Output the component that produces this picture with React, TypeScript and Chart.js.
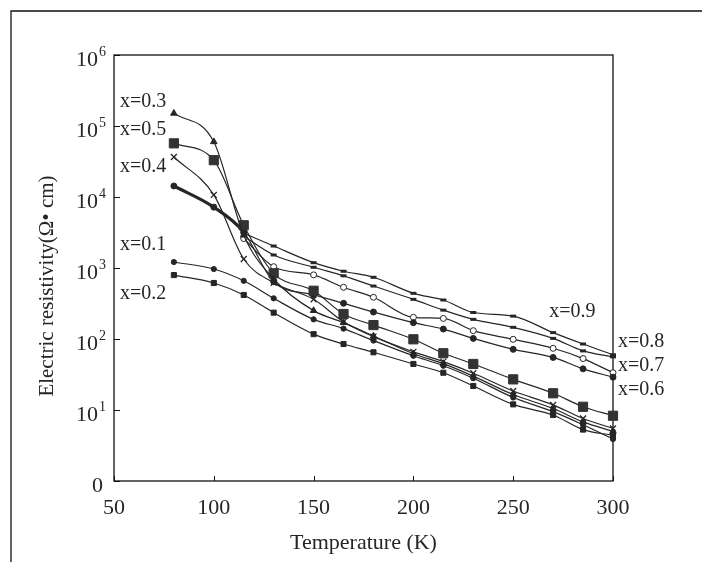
import React, { useEffect, useRef } from "react";
import { Chart, registerables } from "chart.js";

Chart.register(...registerables);

// Temperature (K)
const temperatures = [80, 100, 115, 130, 150, 165, 180, 200, 215, 230, 250, 270, 285, 300];

// Electric resistivity (Ω·cm); null = no measurement
const rho01 = [1215, 968, 660, 374, 189, 140, 95, 58, 42, 28, 15, 9.5, 6.2, 3.9];
const rho02 = [795, 615, 417, 235, 117, 85, 65, 44.5, 33.5, 21.8, 12, 8.5, 5.3, 4.4];
const rho03 = [151000, 60000, 2900, 700, 251, 170, 110, 62, 45, 30, 16.5, 10.5, 6.8, 5.0];
const rho04 = [36600, 10700, 1340, 620, 362, 175, 108, 66, 48, 33, 18.5, 11.8, 7.6, 5.5];
const rho05 = [57000, 33000, 4000, 842, 478, 225, 157, 99, 63, 44.5, 27, 17.2, 11.1, 8.3];
const rho06 = [14300, 7200, 3200, 641, 420, 318, 240, 170, 138, 102, 71.5, 55, 38, 29];
const rho07 = [null, null, 2600, 1043, 800, 535, 387, 202, 195, 131, 99, 74, 53, 33.5];
const rho08 = [null, null, 2800, 1525, 1023, 776, 557, 362, 255, 189, 146, 102, 68, 56];
const rho09 = [null, null, 3100, 2040, 1188, 900, 740, 440, 354, 236, 210, 123, 85, 60];

const seriesNames = ["x=0.1", "x=0.2", "x=0.3", "x=0.4", "x=0.5", "x=0.6", "x=0.7", "x=0.8", "x=0.9"];

const xTickValues = [50, 100, 150, 200, 250, 300];
const yTickValues = [1, 10, 100, 1000, 10000, 100000, 1000000];
const yTickBase = ["0", "10", "10", "10", "10", "10", "10"];
const yTickExp = ["", "1", "2", "3", "4", "5", "6"];

const xTitle = "Temperature (K)";
const yTitle = "Electric resistivity(Ω• cm)";

// label anchors in data coordinates (T, rho)
const labelT = [53, 53, 53, 53, 53, 302.5, 302.5, 302.5, 268];
const labelRho = [2110, 440, 220000, 26700, 88000, 19.1, 41.7, 91.6, 243];
const labelText = ["x=0.1", "x=0.2", "x=0.3", "x=0.4", "x=0.5", "x=0.6", "x=0.7", "x=0.8", "x=0.9"];

const INK = "#262626";
const SERIF = "'Liberation Serif', 'Times New Roman', serif";

function pts(values: (number | null)[]) {
  const out: { x: number; y: number }[] = [];
  values.forEach((v, i) => {
    if (v !== null) out.push({ x: temperatures[i], y: v });
  });
  return out;
}

export default function App() {
  const ref = useRef<HTMLCanvasElement | null>(null);

  useEffect(() => {
    if (!ref.current) return;

    const common = {
      borderColor: INK,
      borderWidth: 1.2,
      cubicInterpolationMode: "monotone" as const,
      clip: false as any,
      pointBorderColor: INK,
      pointBackgroundColor: INK,
      pointBorderWidth: 1,
      fill: false,
    };

    const datasets: any[] = [
      { ...common, label: seriesNames[0], data: pts(rho01), pointStyle: "circle", pointRadius: 2.6 },
      { ...common, label: seriesNames[1], data: pts(rho02), pointStyle: "rect", pointRadius: 3.6 },
      { ...common, label: seriesNames[2], data: pts(rho03), pointStyle: "triangle", pointRadius: 3.8 },
      { ...common, label: seriesNames[3], data: pts(rho04), pointStyle: "crossRot", pointRadius: 4.2, pointBorderWidth: 1.3 },
      { ...common, label: seriesNames[4], data: pts(rho05), pointStyle: "rect", pointRadius: 6.5, pointBackgroundColor: "#333", pointBorderColor: "#333" },
      {
        ...common,
        label: seriesNames[5],
        data: pts(rho06),
        pointStyle: "circle",
        pointRadius: 3,
        segment: { borderWidth: (ctx: any) => (ctx.p0DataIndex < 2 ? 3.2 : 1.2) },
      },
      { ...common, label: seriesNames[6], data: pts(rho07), pointStyle: "circle", pointRadius: 3, pointBackgroundColor: "#fff" },
      { ...common, label: seriesNames[7], data: pts(rho08), pointStyle: "line", pointRadius: 3, pointBorderWidth: 3 },
      { ...common, label: seriesNames[8], data: pts(rho09), pointStyle: "line", pointRadius: 3, pointBorderWidth: 3 },
    ];

    const decor = {
      id: "decor",
      beforeDatasetsDraw(chart: any) {
        const { ctx, chartArea: a, scales } = chart;
        ctx.save();
        ctx.strokeStyle = "#111";
        ctx.lineWidth = 1.3;
        ctx.strokeRect(a.left, a.top, a.right - a.left, a.bottom - a.top);
        // inward ticks
        ctx.lineWidth = 1;
        xTickValues.forEach((v) => {
          const px = Math.round(scales.x.getPixelForValue(v)) + 0.5;
          ctx.beginPath();
          ctx.moveTo(px, a.bottom);
          ctx.lineTo(px, a.bottom - 5);
          ctx.stroke();
        });
        yTickValues.forEach((v) => {
          const py = Math.round(scales.y.getPixelForValue(v)) + 0.5;
          ctx.beginPath();
          ctx.moveTo(a.left, py);
          ctx.lineTo(a.left + 6, py);
          ctx.stroke();
        });
        ctx.restore();
      },
      afterDraw(chart: any) {
        const { ctx, chartArea: a, scales } = chart;
        ctx.save();
        // outer frame of figure
        ctx.strokeStyle = "#111";
        ctx.lineWidth = 1.3;
        ctx.beginPath();
        ctx.moveTo(11, chart.height);
        ctx.lineTo(11, 11);
        ctx.lineTo(chart.width, 11);
        ctx.stroke();

        ctx.fillStyle = INK;
        // x tick labels
        ctx.font = `22px ${SERIF}`;
        ctx.textAlign = "center";
        ctx.textBaseline = "alphabetic";
        xTickValues.forEach((v) => {
          ctx.fillText(String(v), scales.x.getPixelForValue(v), a.bottom + 33);
        });
        // y tick labels with superscripts
        yTickValues.forEach((v, i) => {
          const py = scales.y.getPixelForValue(v);
          const base = yTickBase[i];
          const exp = yTickExp[i];
          ctx.textAlign = "left";
          ctx.font = `14px ${SERIF}`;
          const ew = exp ? ctx.measureText(exp).width : 0;
          ctx.font = `22px ${SERIF}`;
          const bw = ctx.measureText(base).width;
          const right = exp ? a.left - 8 : a.left - 11;
          const bx = right - ew - bw - (exp ? 1 : 0);
          ctx.fillText(base, bx, py + 11);
          if (exp) {
            ctx.font = `14px ${SERIF}`;
            ctx.fillText(exp, bx + bw + 1, py + 1);
          }
        });
        // axis titles
        ctx.font = `22px ${SERIF}`;
        ctx.textAlign = "center";
        ctx.fillText(xTitle, (a.left + a.right) / 2, a.bottom + 68);
        ctx.save();
        ctx.translate(47, 286);
        ctx.rotate(-Math.PI / 2);
        ctx.textBaseline = "middle";
        ctx.font = `21px ${SERIF}`;
        ctx.fillText(yTitle, 0, 0);
        ctx.restore();
        // series labels
        ctx.font = `20px ${SERIF}`;
        ctx.textAlign = "left";
        ctx.textBaseline = "middle";
        labelText.forEach((t, i) => {
          ctx.fillText(t, scales.x.getPixelForValue(labelT[i]), scales.y.getPixelForValue(labelRho[i]));
        });
        ctx.restore();
      },
    };

    const chart = new Chart(ref.current, {
      type: "line",
      data: { datasets },
      options: {
        animation: false,
        responsive: false,
        maintainAspectRatio: false,
        layout: { padding: { left: 0, right: 89, top: 55, bottom: 0 } },
        plugins: { legend: { display: false }, tooltip: { enabled: false } },
        scales: {
          x: {
            type: "linear",
            min: 50,
            max: 300,
            ticks: { display: false },
            grid: { display: false },
            border: { display: false },
            afterFit: (s: any) => {
              s.height = 81;
            },
          },
          y: {
            type: "logarithmic",
            min: 1,
            max: 1000000,
            ticks: { display: false },
            grid: { display: false },
            border: { display: false },
            afterFit: (s: any) => {
              s.width = 114;
            },
          },
        },
      },
      plugins: [decor],
    });

    return () => chart.destroy();
  }, []);

  return (
    <div style={{ position: "absolute", left: 0, top: 0, width: 702, height: 562, background: "#fff" }}>
      <canvas ref={ref} width={702} height={562} style={{ display: "block", width: 702, height: 562 }} />
    </div>
  );
}
